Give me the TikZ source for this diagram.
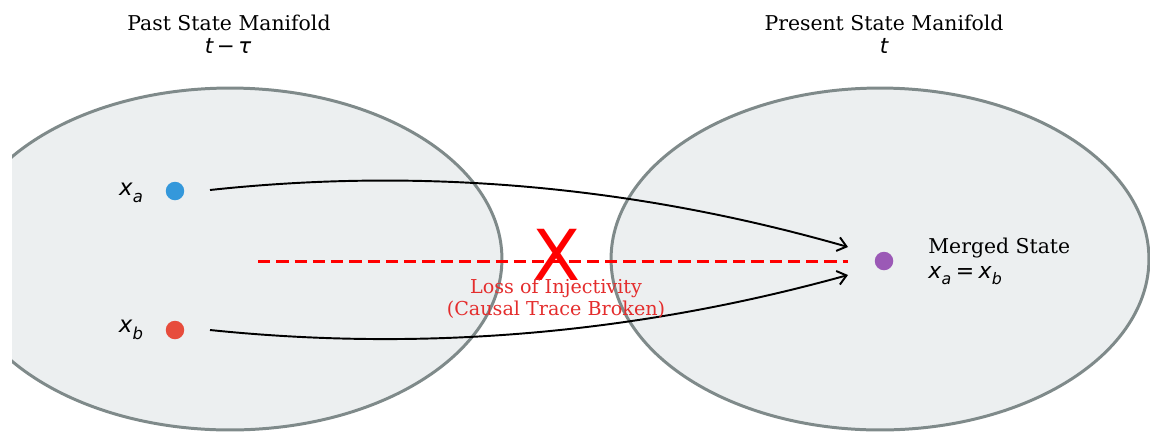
\documentclass[tikz,border=0pt]{standalone}
\usepackage{graphicx}
\usepackage{fontspec}
\setmainfont{DejaVu Serif}
\newfontfamily\dvsans{DejaVu Sans}
\usetikzlibrary{arrows.meta}
\definecolor{fillgray}{HTML}{ECEFF0}
\definecolor{edgegray}{HTML}{7F8A8A}
\definecolor{dotblue}{HTML}{3498DB}
\definecolor{dotred}{HTML}{E74C3C}
\definecolor{dotpurple}{HTML}{9B59B6}
\definecolor{lossred}{RGB}{228,45,45}
\newcommand\mvar[2]{{\dvsans\itshape #1\kern0.2pt\raisebox{-0.28em}{\scalebox{0.72}{#2}}}}
\tikzset{
  manifold/.style={draw=edgegray, fill=fillgray, line width=1.7pt},
  dotnode/.style={circle, inner sep=0pt, minimum size=0.37cm, draw=none},
  maparrow/.style={black, line width=1.1pt, -{Straight Barb[length=5pt,width=8pt,line width=1.1pt]}},
  lossline/.style={red, line width=1.7pt, dash pattern=on 7pt off 3.4pt},
  titletext/.style={font=\fontsize{11.6}{13}\selectfont, inner sep=0pt},
  labeltext/.style={font=\fontsize{13}{15}\selectfont, inner sep=0pt},
}
\begin{document}
\begin{tikzpicture}[x=0.02cm,y=-0.02cm]
\useasboundingbox (0,0) rectangle (1150,434);
\begin{scope}
  \clip (12,0) rectangle (1150,434);
  \draw[manifold] (230,259) ellipse [x radius=5.44cm, y radius=3.42cm];
  \draw[manifold] (880,259) ellipse [x radius=5.38cm, y radius=3.42cm];
\end{scope}

\node[titletext] (pt) at (229,23) {Past State Manifold};
\node[titletext, font=\dvsans\itshape\fontsize{12.2}{14}\selectfont] (ptt) at (228,46) {t\,{\upshape −}\,τ};
\node[titletext] (nt) at (884,23) {Present State Manifold};
\node[titletext, font=\dvsans\itshape\fontsize{12.2}{14}\selectfont] (ntt) at (884,46) {t};

\node[dotnode, fill=dotblue] (xa) at (175,191) {};
\node[dotnode, fill=dotred] (xb) at (175,330) {};
\node[dotnode, fill=dotpurple] (m) at (884,261) {};

\node[labeltext] (la) at (131,193) {\mvar{x}{a}};
\node[labeltext] (lb) at (131,330) {\mvar{x}{b}};

\coordinate (as) at (210,190);
\coordinate (ae) at (848,247);
\coordinate (bs) at (210,330);
\coordinate (be) at (848,275);
\coordinate (ds) at (258,261);
\coordinate (de) at (848,261);

\draw[lossline] (ds) -- (de);
\draw[maparrow] (as) .. controls (423,167) and (635,186) .. (ae);
\draw[maparrow] (bs) .. controls (423,352) and (635,334) .. (be);

\node[red, font=\dvsans\fontsize{40}{40}\selectfont, inner sep=0pt] (cross) at (557,255) {X};
\node[lossred, align=center, font=\fontsize{10.9}{12.6}\selectfont, inner sep=0pt] (loss) at (556,299) {Loss of Injectivity\\(Causal Trace Broken)};

\node[anchor=west, align=left, font=\fontsize{11.6}{14.2}\selectfont, inner sep=0pt] (ms) at (928,261) {Merged State\\{\fontsize{12.5}{14.2}\selectfont\mvar{x}{a}\kern2.5pt{\dvsans =}\kern2.5pt\mvar{x}{b}}};
\end{tikzpicture}
\end{document}
